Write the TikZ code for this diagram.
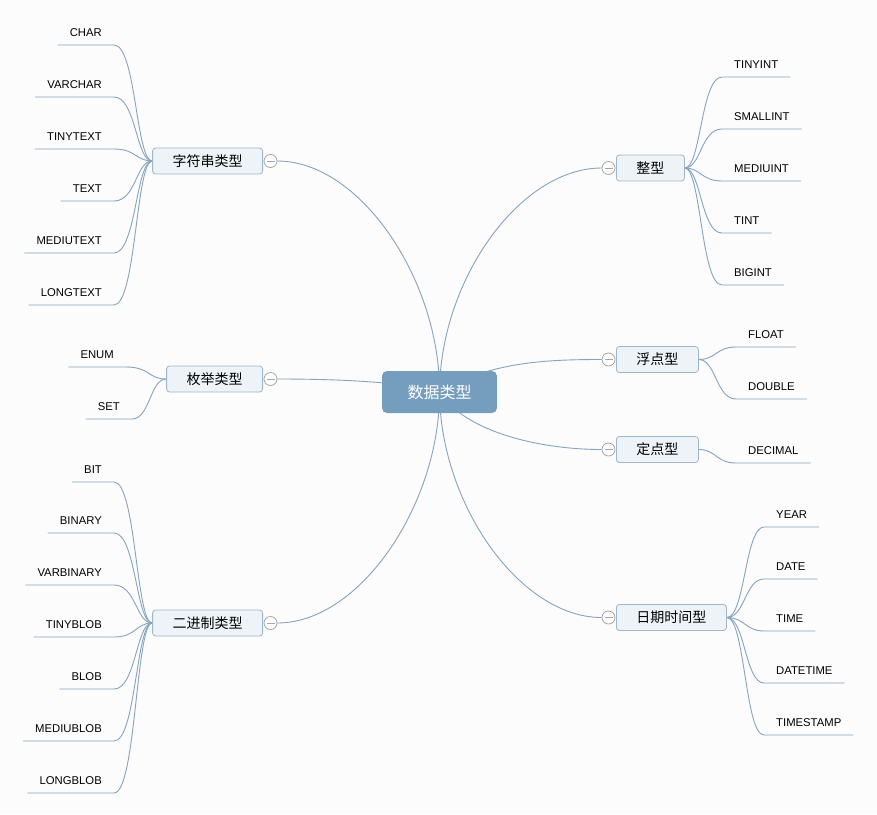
\documentclass[tikz,border=0pt]{standalone}
\usepackage{fontspec}
\setmainfont{Liberation Sans}
\newfontfamily\cjk{Noto Sans CJK SC}
\pgfdeclarelayer{bg}
\pgfsetlayers{bg,main}

\definecolor{linkblue}{RGB}{133,164,192}
\definecolor{topicfill}{RGB}{238,243,248}
\definecolor{topicedge}{RGB}{158,182,204}
\definecolor{rootfill}{RGB}{117,157,189}

\begin{document}
\begin{tikzpicture}
[
	x=1pt,y=-1pt,
	root/.style={rectangle,rounded corners=5pt,fill=rootfill,text=white,minimum width=115pt,minimum height=42pt,font=\cjk\fontsize{16}{18}\selectfont},
	topic/.style={rectangle,rounded corners=3pt,draw=topicedge,fill=topicfill,line width=0.8pt,inner xsep=20pt,inner ysep=0pt,minimum height=26pt,font=\cjk\fontsize{14}{16}\selectfont},
	fold/.style={circle,draw=gray!70,fill=white,line width=0.8pt,inner sep=0pt,minimum size=13pt,
		path picture={\draw[gray!70,line width=0.8pt] ([xshift=-4pt]path picture bounding box.center) -- ([xshift=4pt]path picture bounding box.center);}},
	leafl/.style={anchor=south east,inner xsep=12pt,inner ysep=8.5pt,text depth=0pt,font=\fontsize{11.3}{13}\selectfont},
	leafr/.style={leafl,anchor=south west},
	link/.style={draw=linkblue,line width=0.9pt}
]

	\useasboundingbox (0,0) rectangle (877,814);

	% root and topics
	\node[root] (types) at (439.5,392) {数据类型};

	\node[topic,anchor=east] (str) at (263,161) {字符串类型};
	\node[topic,anchor=east] (enum) at (263,379) {枚举类型};
	\node[topic,anchor=east] (bin) at (263,623) {二进制类型};

	\node[topic,anchor=west] (int) at (616,168) {整型};
	\node[topic,anchor=west] (float) at (616,359.5) {浮点型};
	\node[topic,anchor=west] (fixed) at (616,449.5) {定点型};
	\node[topic,anchor=west] (time) at (616,617.5) {日期时间型};

	% fold marks
	\node[fold] (strf) at (270.5,161) {};
	\node[fold] (enumf) at (270.5,379) {};
	\node[fold] (binf) at (270.5,623) {};
	\node[fold] (intf) at (608.5,168) {};
	\node[fold] (floatf) at (608.5,359.5) {};
	\node[fold] (fixedf) at (608.5,449.5) {};
	\node[fold] (timef) at (608.5,617.5) {};

	% leaves, left
	\node[leafl] (char) at (114,45) {CHAR};
	\node[leafl] (varchar) at (114,97) {VARCHAR};
	\node[leafl] (tinytext) at (114,149) {TINYTEXT};
	\node[leafl] (text) at (114,201) {TEXT};
	\node[leafl] (mediutext) at (114,253) {MEDIUTEXT};
	\node[leafl] (longtext) at (114,305) {LONGTEXT};

	\node[leafl] (enumv) at (126,367) {ENUM};
	\node[leafl] (setv) at (132,419) {SET};

	\node[leafl] (bit) at (114,482) {BIT};
	\node[leafl] (binary) at (114,533) {BINARY};
	\node[leafl] (varbinary) at (114,585) {VARBINARY};
	\node[leafl] (tinyblob) at (114,637) {TINYBLOB};
	\node[leafl] (blob) at (114,689) {BLOB};
	\node[leafl] (mediublob) at (114,741) {MEDIUBLOB};
	\node[leafl] (longblob) at (114,793) {LONGBLOB};

	% leaves, right
	\node[leafr] (tinyint) at (722,77) {TINYINT};
	\node[leafr] (smallint) at (722,129) {SMALLINT};
	\node[leafr] (mediuint) at (722,181) {MEDIUINT};
	\node[leafr] (tint) at (722,233) {TINT};
	\node[leafr] (bigint) at (722,285) {BIGINT};

	\node[leafr] (floatv) at (736,347) {FLOAT};
	\node[leafr] (doublev) at (736,399) {DOUBLE};
	\node[leafr] (decimal) at (736,463) {DECIMAL};

	\node[leafr] (year) at (764,527) {YEAR};
	\node[leafr] (date) at (764,579) {DATE};
	\node[leafr] (timev) at (764,631) {TIME};
	\node[leafr] (datetime) at (764,683) {DATETIME};
	\node[leafr] (timestamp) at (764,735) {TIMESTAMP};

	\begin{pgfonlayer}{bg}
	\fill[black!1] (0,0) rectangle (877,814);

	% main links
	\draw[link] (types.center) .. controls (440,280) and (360,161) .. (strf.east);
	\draw[link] (types.center) .. controls (400,381) and (330,379) .. (enumf.east);
	\draw[link] (types.center) .. controls (440,504) and (360,623) .. (binf.east);
	\draw[link] (types.center) .. controls (440,280) and (520,168) .. (intf.west);
	\draw[link] (types.center) .. controls (490,362) and (545,359.5) .. (floatf.west);
	\draw[link] (types.center) .. controls (465,432) and (540,449.5) .. (fixedf.west);
	\draw[link] (types.center) .. controls (440,504) and (520,617.5) .. (timef.west);

	% leaf links, left
	\draw[link] (str.west) .. controls (136,161) and (136,45) .. (char.south east) -- (char.south west);
	\draw[link] (str.west) .. controls (136,161) and (136,97) .. (varchar.south east) -- (varchar.south west);
	\draw[link] (str.west) .. controls (136,161) and (136,149) .. (tinytext.south east) -- (tinytext.south west);
	\draw[link] (str.west) .. controls (136,161) and (136,201) .. (text.south east) -- (text.south west);
	\draw[link] (str.west) .. controls (136,161) and (136,253) .. (mediutext.south east) -- (mediutext.south west);
	\draw[link] (str.west) .. controls (136,161) and (136,305) .. (longtext.south east) -- (longtext.south west);

	\draw[link] (enum.west) .. controls (148,379) and (150,367) .. (enumv.south east) -- (enumv.south west);
	\draw[link] (enum.west) .. controls (150,379) and (150,419) .. (setv.south east) -- (setv.south west);

	\draw[link] (bin.west) .. controls (136,623) and (136,482) .. (bit.south east) -- (bit.south west);
	\draw[link] (bin.west) .. controls (136,623) and (136,533) .. (binary.south east) -- (binary.south west);
	\draw[link] (bin.west) .. controls (136,623) and (136,585) .. (varbinary.south east) -- (varbinary.south west);
	\draw[link] (bin.west) .. controls (136,623) and (136,637) .. (tinyblob.south east) -- (tinyblob.south west);
	\draw[link] (bin.west) .. controls (136,623) and (136,689) .. (blob.south east) -- (blob.south west);
	\draw[link] (bin.west) .. controls (136,623) and (136,741) .. (mediublob.south east) -- (mediublob.south west);
	\draw[link] (bin.west) .. controls (136,623) and (136,793) .. (longblob.south east) -- (longblob.south west);

	% leaf links, right
	\draw[link] (int.east) .. controls (701,168) and (701,77) .. (tinyint.south west) -- (tinyint.south east);
	\draw[link] (int.east) .. controls (701,168) and (701,129) .. (smallint.south west) -- (smallint.south east);
	\draw[link] (int.east) .. controls (701,168) and (701,181) .. (mediuint.south west) -- (mediuint.south east);
	\draw[link] (int.east) .. controls (701,168) and (701,233) .. (tint.south west) -- (tint.south east);
	\draw[link] (int.east) .. controls (701,168) and (701,285) .. (bigint.south west) -- (bigint.south east);

	\draw[link] (float.east) .. controls (716,359.5) and (716,347) .. (floatv.south west) -- (floatv.south east);
	\draw[link] (float.east) .. controls (716,359.5) and (716,399) .. (doublev.south west) -- (doublev.south east);
	\draw[link] (fixed.east) .. controls (716,449.5) and (716,463) .. (decimal.south west) -- (decimal.south east);

	\draw[link] (time.east) .. controls (745,617.5) and (745,527) .. (year.south west) -- (year.south east);
	\draw[link] (time.east) .. controls (745,617.5) and (745,579) .. (date.south west) -- (date.south east);
	\draw[link] (time.east) .. controls (745,617.5) and (745,631) .. (timev.south west) -- (timev.south east);
	\draw[link] (time.east) .. controls (745,617.5) and (745,683) .. (datetime.south west) -- (datetime.south east);
	\draw[link] (time.east) .. controls (745,617.5) and (745,735) .. (timestamp.south west) -- (timestamp.south east);
	\end{pgfonlayer}

\end{tikzpicture}
\end{document}
